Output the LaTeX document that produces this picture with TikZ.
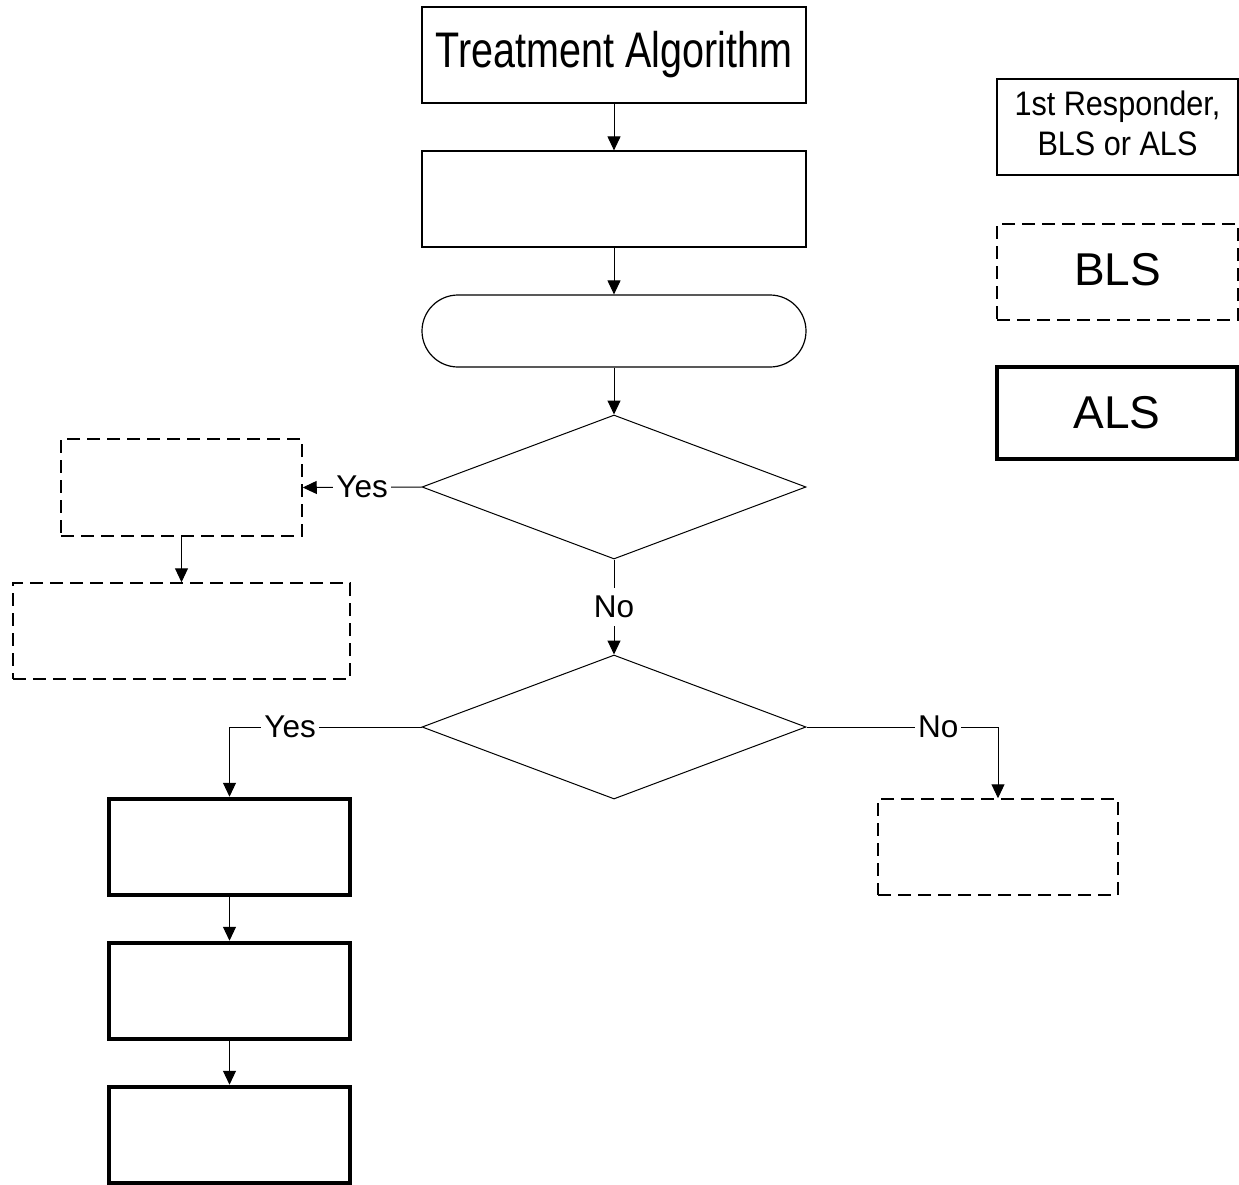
\documentclass[tikz,border=0pt]{standalone}
\usepackage{fontspec}
\setmainfont{Liberation Sans}
\newfontfamily\trtfont[FakeStretch=0.79]{Liberation Sans}
\newfontfamily\legfont[FakeStretch=0.9]{Liberation Sans}
\usetikzlibrary{arrows.meta,shapes.geometric}
\begin{document}
\begin{tikzpicture}[x=1pt,y=-1pt,
  base/.style={draw, inner sep=0pt, minimum width=#1},
  plainbox/.style={base=#1, line width=1.2pt, minimum height=96pt},
  dashbox/.style={base=#1, line width=1.5pt, dash pattern=on 13pt off 7pt, minimum height=96pt},
  alsbox/.style={base=#1, line width=4.5pt, minimum height=96pt},
  termbox/.style={base=384pt, line width=1.2pt, minimum height=72pt, rounded corners=36pt},
  decision/.style={draw, diamond, line width=1pt, inner sep=0pt, minimum width=384pt, minimum height=144pt},
  conn/.style={line width=1pt, -{Triangle[length=14pt,width=13pt]}},
  lbl/.style={fill=white, font=\fontsize{31.5}{38}\selectfont, inner xsep=3pt, inner ysep=8pt}
]
\useasboundingbox (0,0) rectangle (1239,1184);

% main column
\node[plainbox=384pt, font=\fontsize{50}{60}\selectfont\trtfont] (ta) at (614,55) {Treatment Algorithm};
\node[plainbox=384pt] (b2) at (614,199) {};
\node[termbox] (term) at (614,331) {};
\node[decision] (d1) at (614,487) {};
\node[decision] (d2) at (614,727) {};

% left branch of first decision
\node[dashbox=241pt, minimum height=97pt] (bl1) at (181.5,487.5) {};
\node[dashbox=337pt] (bl2) at (181.5,631) {};

% left branch of second decision
\node[alsbox=241pt] (a1) at (229.5,847) {};
\node[alsbox=241pt] (a2) at (229.5,991) {};
\node[alsbox=241pt] (a3) at (229.5,1135) {};

% right branch of second decision
\node[dashbox=240pt] (br) at (998,847) {};

% legend
\node[plainbox=241pt, align=center, font=\fontsize{34}{40}\selectfont\legfont] (leg1) at (1117.5,127)
  {1st Responder,\\BLS or ALS\rule[-8pt]{0pt}{8pt}};
\node[dashbox=241pt, font=\fontsize{46}{55}\selectfont] (leg2) at (1117.5,272) {BLS\rule[-6pt]{0pt}{6pt}};
\node[alsbox=240pt, minimum height=92pt, font=\fontsize{46}{55}\selectfont] (leg3) at (1117,413) {ALS};

% connectors
\draw[conn] (ta.south) -- (b2.north);
\draw[conn] (b2.south) -- (term.north);
\draw[conn] (term.south) -- (d1.north);
\draw[conn] (d1.west) -- node[lbl] (y1) {Yes} (bl1.east);
\draw[conn] (bl1.south) -- (bl2.north);
\draw[conn] (d1.south) -- node[lbl] (n1) {No} (d2.north);
\draw[conn] (d2.west) -- node[lbl, pos=0.684] (y2) {Yes} (d2.west -| a1.north) -- (a1.north);
\draw[conn] (a1.south) -- (a2.north);
\draw[conn] (a2.south) -- (a3.north);
\draw[conn] (d2.east) -- node[lbl, pos=0.6875] (n2) {No} (d2.east -| br.north) -- (br.north);
\end{tikzpicture}
\end{document}
